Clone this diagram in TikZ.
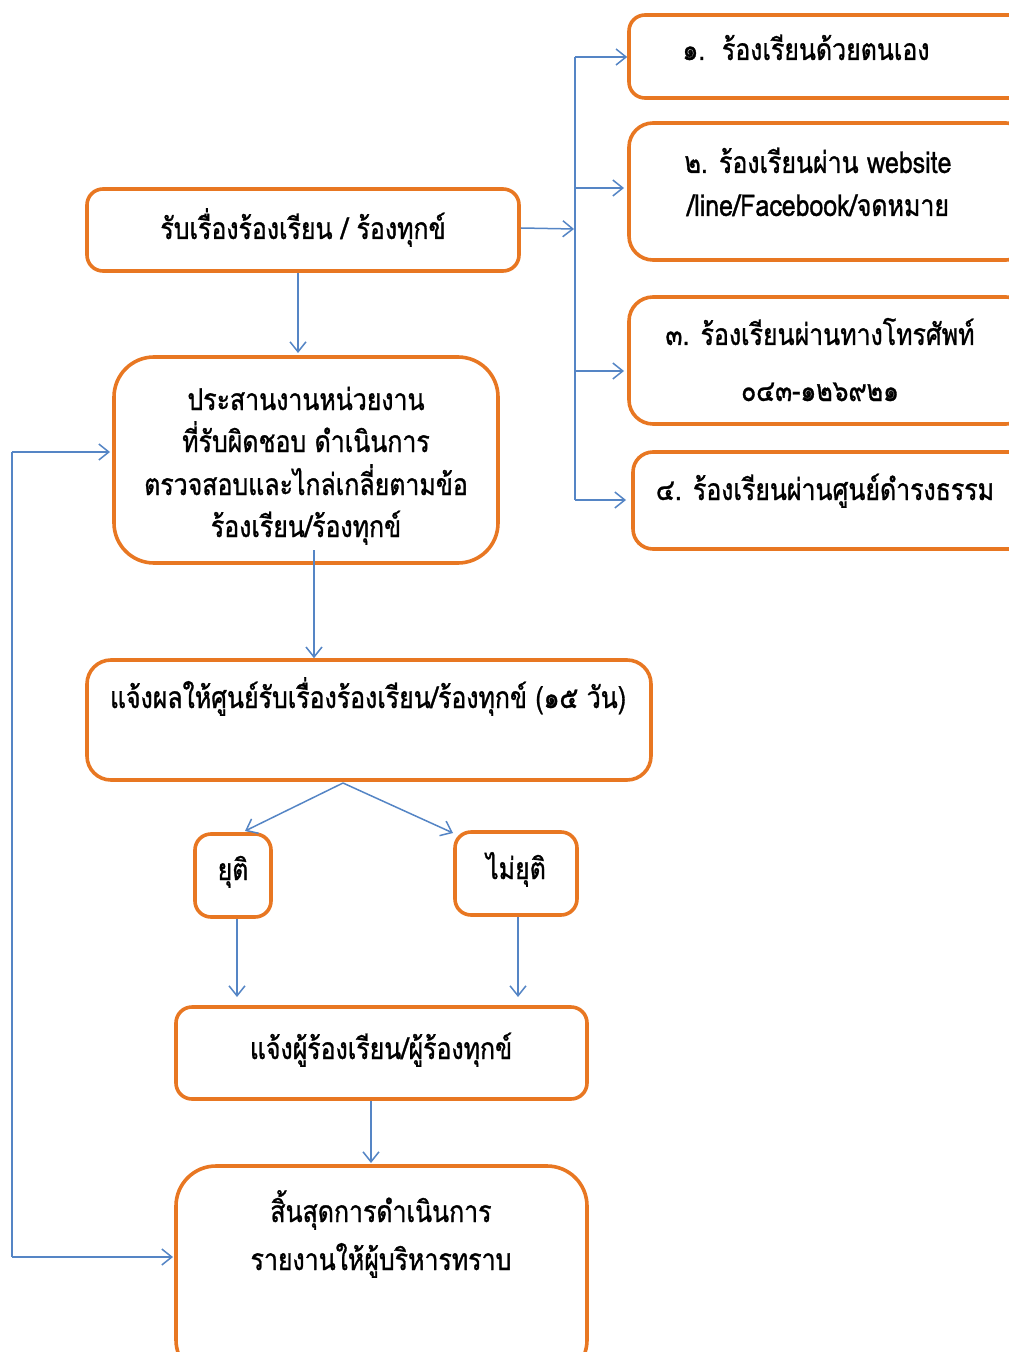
\documentclass[tikz,border=0pt]{standalone}
\usepackage{fontspec}
\newfontfamily\thaifont[Script=Thai,FakeStretch=0.83,FakeBold=1]{Loma}
\usetikzlibrary{arrows.meta,fit}
\definecolor{boxorange}{HTML}{E87722}
\definecolor{lineblue}{HTML}{5585C5}
\begin{document}
\begin{tikzpicture}[x=0.5pt,y=-0.5pt,
  box/.style={draw=boxorange,line width=1.8pt,inner sep=0pt,rounded corners=#1},
  box/.default=7pt,
  lbl/.style={font=\thaifont\fontsize{15}{18}\selectfont,align=center,inner sep=0pt,text=black,text height=11pt,text depth=4pt,yshift=-1.5pt},
  arr/.style={draw=lineblue,line width=0.75pt,-{Straight Barb[length=5pt,width=8pt,line width=0.75pt]}},
  ln/.style={draw=lineblue,line width=0.75pt}]
\useasboundingbox (0,0) rectangle (1008,1352);
% boxes
\node[box=8pt,fit={(87,189) (519,271)}] (A) {};
\node[box=20pt,fit={(114,357) (498,563)}] (B) {};
\node[box=12pt,fit={(87,660) (651,780)}] (C) {};
\node[box=8pt,fit={(195,834) (271,917)}] (Y) {};
\node[box=8pt,fit={(455,832) (577,915)}] (N) {};
\node[box=8pt,fit={(176,1007) (587,1099)}] (D) {};
\node[box=20pt,fit={(176,1166) (587,1380)}] (E) {};
\node[box=8pt,fit={(629,15) (1030,98)}] (R1) {};
\node[box=12pt,fit={(629,123) (1030,260)}] (R2) {};
\node[box=12pt,fit={(629,297) (1030,424)}] (R3) {};
\node[box=10pt,fit={(633,452) (1030,549)}] (R4) {};
% texts
\node[lbl] (tA) at (303,229) {รับเรื่องร้องเรียน / ร้องทุกข์};
\node[lbl] (tB1) at (306,400) {ประสานงานหน่วยงาน};
\node[lbl] (tB2) at (306,442) {ที่รับผิดชอบ ดำเนินการ};
\node[lbl] (tB3) at (306,485) {ตรวจสอบและไกล่เกลี่ยตามข้อ};
\node[lbl] (tB4) at (306,527) {ร้องเรียน/ร้องทุกข์};
\node[lbl] (tC) at (368,698) {แจ้งผลให้ศูนย์รับเรื่องร้องเรียน/ร้องทุกข์ (๑๕ วัน)};
\node[lbl] (tY) at (233,870) {ยุติ};
\node[lbl] (tN) at (516,869) {ไม่ยุติ};
\node[lbl] (tD) at (381,1049) {แจ้งผู้ร้องเรียน/ผู้ร้องทุกข์};
\node[lbl] (tE1) at (381,1212) {สิ้นสุดการดำเนินการ};
\node[lbl] (tE2) at (381,1260) {รายงานให้ผู้บริหารทราบ};
\node[lbl] (tR1) at (806,50) {๑.\ \ ร้องเรียนด้วยตนเอง};
\node[lbl] (tR2a) at (818,163) {๒. ร้องเรียนผ่าน website};
\node[lbl] (tR2b) at (818,206) {/line/Facebook/จดหมาย};
\node[lbl] (tR3a) at (820,335) {๓. ร้องเรียนผ่านทางโทรศัพท์};
\node[lbl] (tR3b) at (820,391) {๐๔๓-๑๒๖๙๒๑};
\node[lbl] (tR4) at (825,490) {๔. ร้องเรียนผ่านศูนย์ดำรงธรรม};
% connectors
\coordinate (bt) at (575,57);
\coordinate (bb) at (575,500);
\draw[arr] (A.east |- 0,228) -- (574,229);
\draw[ln] (bt) -- (bb);
\draw[arr] (bt) -- (R1.west |- bt);
\draw[arr] (575,188) -- (624,188);
\draw[arr] (575,371) -- (624,371);
\draw[arr] (bb) -- (626,500);
\draw[arr] (A.south -| 298,0) -- (298,353);
\draw[arr] (314,550) -- (C.north -| 314,0);
\coordinate (cs) at (343,783);
\draw[arr] (cs) -- (245,831);
\draw[arr] (cs) -- (453,833);
\draw[arr] (Y.south -| 237,0) -- (237,997);
\draw[arr] (N.south -| 518,0) -- (518,997);
\draw[arr] (D.south -| 371,0) -- (371,1163);
\coordinate (fb1) at (12,452);
\coordinate (fb2) at (12,1257);
\draw[arr] (fb1) -- (110,452);
\draw[ln] (fb1) -- (fb2);
\draw[arr] (fb2) -- (173,1257);
\end{tikzpicture}
\end{document}
